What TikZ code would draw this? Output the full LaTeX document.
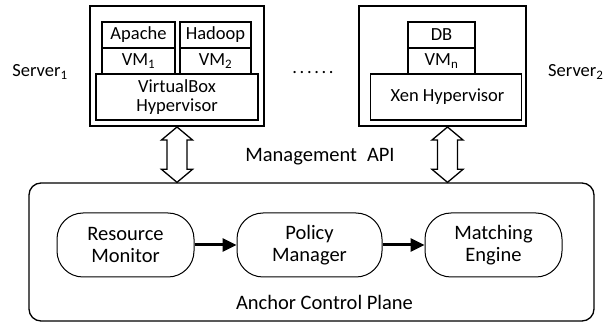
\documentclass[tikz,border=0pt]{standalone}
\usepackage{fontspec}
\setmainfont{Carlito}
\usetikzlibrary{arrows.meta,calc}

\begin{document}
\begin{tikzpicture}[x = 1pt, y = -1pt,
  every node/.style = {font=\fontsize{18.5}{19}\selectfont},
  big/.style = {font=\fontsize{20.5}{22}\selectfont},
  srvbox/.style = {draw, line width=2pt, minimum height=120pt},
  vmbox/.style = {draw, line width=1.3pt, minimum height=26pt, inner sep=0pt},
  hvbox/.style = {draw, line width=1.3pt, minimum height=46pt, inner sep=0pt, align=center},
  plane/.style = {draw, line width=1.3pt, rounded corners=12pt},
  module/.style = {draw, big, line width=1pt, rounded corners=26pt, minimum height=64pt, align=center},
  flow/.style = {line width=3pt, -{Triangle[length=14pt, width=13pt]}},
  api/.style = {draw, line width=1.3pt, line join=miter, fill=white}]
\useasboundingbox (0,0) rectangle (606,323);

\node[srvbox, minimum width=174pt] (SRV1) at (177,66) {};
\node[vmbox, minimum width=73pt] (APACHE) at (138.5,35) {Apache};
\node[vmbox, minimum width=73pt] (VM1) at (138.5,61) {VM\textsubscript{1}};
\node[vmbox, minimum width=71pt] (HADOOP) at (215.5,35) {Hadoop};
\node[vmbox, minimum width=71pt] (VM2) at (215.5,61) {VM\textsubscript{2}};
\node[hvbox, minimum width=162pt] (VBOX) at (177,97) {VirtualBox\\Hypervisor};

\node[srvbox, minimum width=167pt] (SRV2) at (442.5,66) {};
\node[vmbox, minimum width=67pt] (DB) at (441.5,35) {DB};
\node[vmbox, minimum width=67pt] (VMN) at (441.5,61) {VM\textsubscript{n}};
\node[hvbox, minimum width=151pt] (XEN) at (446,97) {\hspace{3pt}Xen Hypervisor};

\node (LBL1) at (40,72) {Server\textsubscript{1}};
\node[anchor=west, inner sep=0pt] (LBL2) at (548,72) {Server\textsubscript{2}};
\node[anchor=base] (DOTS) at (313,74) {.\kern2.6pt.\kern2.6pt.\kern2.6pt.\kern2.6pt.\kern2.6pt.};
\node[big] (API) at (320,157) {Management\hspace{10pt}API};

\node[plane, minimum width=565pt, minimum height=138pt] (ACP) at (311.5,252) {};
\node[big] (ACPL) at (324.5,302) {Anchor Control Plane};
\node[module, minimum width=137pt] (RM) at (125.5,245) {Resource\\Monitor};
\node[module, minimum width=145pt] (PM) at (309.5,245) {Policy\\Manager};
\node[module, minimum width=137pt] (ME) at (493.5,245) {Matching\\Engine};
\draw[flow] (RM) -- (PM);
\draw[flow] (PM) -- (ME);

\foreach \s/\dx in {SRV1/0, SRV2/5} {
  \path ([xshift=\dx]\s.south) coordinate (TOP) (TOP |- ACP.north) coordinate (BOT);
  \draw[api] (TOP) -- ++(15.5,13) -- ++(-5.5,0) -- ($(BOT)+(10,-13)$) -- ++(5.5,0) -- (BOT)
    -- ++(-15.5,-13) -- ++(5.5,0) -- ($(TOP)+(-10,13)$) -- ++(-5.5,0) -- cycle;
}
\end{tikzpicture}
\end{document}
